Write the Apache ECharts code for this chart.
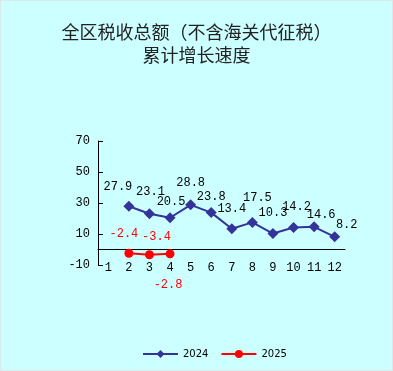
<!DOCTYPE html>
<html>
<head>
<meta charset="utf-8">
<script src="https://cdn.jsdelivr.net/npm/echarts@6/dist/echarts.min.js"></script>
<style>
html,body{margin:0;padding:0;background:#ccffff;}
#c{width:393px;height:371px;box-sizing:border-box;border:1px solid #dde8e8;}
</style>
</head>
<body>
<div id="c"></div>
<script>
var months = ['1','2','3','4','5','6','7','8','9','10','11','12'];
var values2024 = [null, 27.9, 23.1, 20.5, 28.8, 23.8, 13.4, 17.5, 10.3, 14.2, 14.6, 8.2];
var values2025 = [null, -2.4, -3.4, -2.8, null, null, null, null, null, null, null, null];
var yTicks = [-10, 10, 30, 50, 70];

var off2024 = [null, [-11,-19], [1,-22], [1,-16], [0,-22], [0,-16], [0,-20], [5,-25], [0,-21], [3,-21], [7,-12], [12,-12]];
var off2025 = [null, [-5,-19], [7,-18], [-2,31], null, null, null, null, null, null, null, null];

function mk(vals, offs, color) {
  return vals.map(function (v, i) {
    if (v === null) return null;
    return {
      value: v,
      label: {
        show: true, position: 'inside', offset: offs[i],
        color: color, fontFamily: 'Liberation Mono', fontSize: 12,
        formatter: function (p) { return p.value.toFixed(1); }
      }
    };
  });
}

var chart = echarts.init(document.getElementById('c'), null, {renderer: 'canvas'});
chart.setOption({
  backgroundColor: '#ccffff',
  animation: false,
  title: {
    text: '全区税收总额（不含海关代征税）\n累计增长速度',
    left: 'center', top: 15,
    textStyle: {fontFamily: 'Noto Sans CJK SC', fontSize: 18, fontWeight: 'normal', color: '#222', lineHeight: 23}
  },
  legend: {
    left: 136, top: 343,
    itemWidth: 35, itemHeight: 10, itemGap: 12,
    textStyle: {fontSize: 10, color: '#000', fontFamily: 'DejaVu Sans'},
    data: ['2024', '2025']
  },
  grid: {left: 97, right: 47, top: 140, height: 124},
  xAxis: [{
    type: 'category', data: months,
    axisLine: {onZero: true, lineStyle: {color: '#000', width: 1}},
    axisTick: {inside: true, length: 5, lineStyle: {color: '#000'}},
    axisLabel: {show: false}
  }, {
    type: 'category', data: months, position: 'bottom',
    axisLine: {show: false}, axisTick: {show: false},
    axisLabel: {color: '#000', fontFamily: 'Liberation Mono', fontSize: 12, margin: -3}
  }],
  yAxis: {
    type: 'value', min: -10, max: 70,
    splitLine: {show: false},
    axisLine: {show: true, lineStyle: {color: '#000'}},
    axisTick: {show: true, inside: true, length: 5, customValues: yTicks, lineStyle: {color: '#000'}},
    axisLabel: {customValues: yTicks, color: '#000', fontFamily: 'Liberation Mono', fontSize: 12, margin: 8}
  },
  series: [{
    name: '2024', type: 'line', xAxisIndex: 0,
    data: mk(values2024, off2024, '#000'),
    color: '#333399',
    lineStyle: {color: '#333399', width: 2},
    itemStyle: {color: '#333399'},
    symbol: 'diamond', symbolSize: 11,
    connectNulls: false
  }, {
    name: '2025', type: 'line', xAxisIndex: 0,
    data: mk(values2025, off2025, '#ff0000'),
    color: '#ff0000',
    lineStyle: {color: '#ff0000', width: 2},
    itemStyle: {color: '#ff0000'},
    symbol: 'circle', symbolSize: 9
  }]
});
</script>
</body>
</html>
